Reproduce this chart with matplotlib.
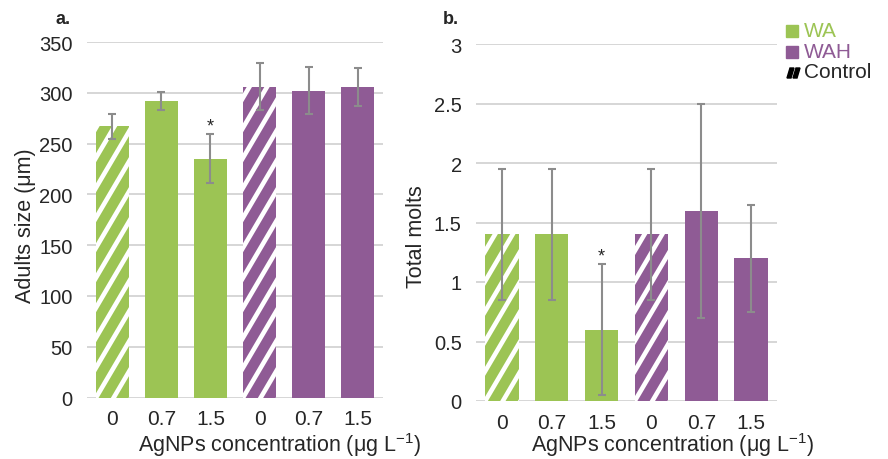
import matplotlib
matplotlib.use("Agg")
import matplotlib.pyplot as plt
import numpy as np
from matplotlib.lines import Line2D
from matplotlib.patches import Rectangle, Polygon
from matplotlib.transforms import IdentityTransform

plt.rcParams['font.family'] = ['Liberation Sans', 'DejaVu Sans']
plt.rcParams['mathtext.fontset'] = 'custom'
plt.rcParams['mathtext.rm'] = 'Liberation Sans'

# data
conc = ["0", "0.7", "1.5", "0", "0.7", "1.5"]
group = ["WA", "WA", "WA", "WAH", "WAH", "WAH"]
control = [True, False, False, True, False, False]

size_mean = [267, 292, 235, 306, 302, 306]
size_err = [12.5, 8.5, 24, 23, 23, 18.5]
size_sig = [False, False, True, False, False, False]

molts_mean = [1.4, 1.4, 0.6, 1.4, 1.6, 1.2]
molts_err = [0.55, 0.55, 0.55, 0.55, 0.9, 0.45]
molts_sig = [False, False, True, False, False, False]

colors = {"WA": "#9cc454", "WAH": "#8f5b95"}
grid_c = "#d6d6d6"
err_c = "#8c8c8c"
txt_c = "#262626"

W, H = 888, 460
fig = plt.figure(figsize=(W / 100, H / 100), dpi=100)


def px_rect(x0, y0, x1, y1):
    # pixel box (top-left origin) -> figure fraction rect
    return [x0 / W, 1 - y1 / H, (x1 - x0) / W, (y1 - y0) / H]


def stripes(ax, bar):
    # white diagonal stripes drawn in pixel space, clipped to the bar
    (x0, y0), (x1, y1) = ax.transData.transform(
        [[bar.get_x(), bar.get_y()],
         [bar.get_x() + bar.get_width(), bar.get_y() + bar.get_height()]])
    slope = 1.7
    period = 30.0
    for k in np.arange(-20, 20):
        c = y0 + k * period
        xs = np.array([x0 - 5, x1 + 5])
        ys = c + slope * (xs - x0)
        ln = Line2D(xs, ys, transform=IdentityTransform(), color="white",
                    lw=3.3, solid_capstyle="butt", zorder=2.5)
        ax.add_artist(ln)
        ln.set_clip_path(bar)


def panel(rect, means, errs, sig, ymax, ystep, ylabel, ylab_pos, xlab_pos, star_off):
    ax = fig.add_axes(rect)
    x = np.arange(len(conc))
    cols = [colors[g] for g in group]
    bars = ax.bar(x, means, width=0.67, color=cols, zorder=2)
    ax.errorbar(x, means, yerr=errs, fmt="none", ecolor=err_c, elinewidth=1.5,
                capsize=3.2, capthick=1.5, zorder=3)
    ax.set_xlim(-0.52, len(conc) - 0.48)
    ax.set_ylim(0, ymax)
    yt = np.arange(0, ymax + ystep / 2, ystep)
    ax.set_yticks(yt)
    ax.set_yticklabels(["{:g}".format(v) for v in yt])
    ax.set_xticks(x)
    ax.set_xticklabels(conc)
    ax.tick_params(axis="both", length=0, colors=txt_c)
    ax.tick_params(axis="y", pad=10.3, labelsize=14.5)
    ax.tick_params(axis="x", pad=8.5, labelsize=15)
    ax.yaxis.grid(True, color=grid_c, lw=1.4, zorder=0)
    ax.set_axisbelow(True)
    for s in ax.spines.values():
        s.set_visible(False)
    for b, c in zip(bars, control):
        if c:
            stripes(ax, b)
    for i, s in enumerate(sig):
        if s:
            ax.annotate("*", (x[i], means[i] + errs[i]), xytext=(0, star_off),
                        textcoords="offset points", ha="center", va="bottom",
                        fontsize=13, color=txt_c, zorder=4)
    ax.text(ylab_pos[0], ylab_pos[1], ylabel, transform=ax.transAxes,
            rotation=90, ha="center", va="center", fontsize=15.5, color=txt_c)
    ax.text(xlab_pos[0], xlab_pos[1], r"AgNPs concentration (μg L$^{-1}$)",
            transform=ax.transAxes, ha="center", va="baseline", fontsize=15.5,
            color=txt_c)
    return ax


ax1 = panel(px_rect(87, 43, 383, 398.6), size_mean, size_err, size_sig,
            350, 50, "Adults size (μm)", (-0.209, 0.487), (0.652, -0.150), 0)
ax2 = panel(px_rect(476, 45, 777, 402), molts_mean, molts_err, molts_sig,
            3, 0.5, "Total molts", (-0.199, 0.464), (0.654, -0.140), 0)

fig.text(55 / W, 1 - 19 / H, "a.", fontsize=13, weight="bold", color=txt_c,
         ha="left", va="center")
fig.text(443 / W, 1 - 19 / H, "b.", fontsize=13, weight="bold", color=txt_c,
         ha="left", va="center")

# legend
for lab, yc in [("WA", 31.5), ("WAH", 53)]:
    fig.add_artist(Rectangle(((786) / W, 1 - (yc + 6) / H), 12 / W, 12 / H,
                             transform=fig.transFigure, color=colors[lab]))
    fig.text(804 / W, 1 - yc / H, lab, fontsize=15, color=colors[lab],
             ha="left", va="center")
for dx in (0, 6):
    pts = [(787 + dx, 79), (791 + dx, 79), (794 + dx, 69), (790 + dx, 69)]
    fig.add_artist(Polygon([(px / W, 1 - py / H) for px, py in pts],
                           closed=True, transform=fig.transFigure,
                           color="black"))
fig.text(804 / W, 1 - 73 / H, "Control", fontsize=15, color=txt_c,
         ha="left", va="center")

fig.savefig("out.png", dpi=100)
